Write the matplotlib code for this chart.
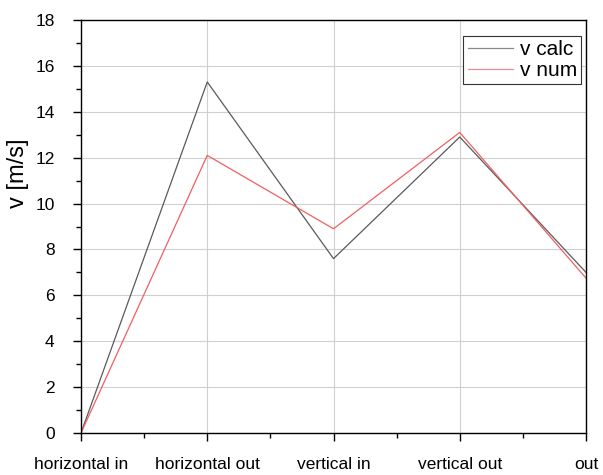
import matplotlib
matplotlib.use("Agg")
import matplotlib.pyplot as plt
from matplotlib.ticker import MultipleLocator

categories = ["horizontal in", "horizontal out", "vertical in", "vertical out", "out"]
v_calc = [0.0, 15.3, 7.6, 12.9, 7.0]
v_num = [0.0, 12.1, 8.9, 13.1, 6.75]

plt.rcParams['font.family'] = ['Liberation Sans', 'DejaVu Sans']

fig = plt.figure(figsize=(6.03, 4.75), dpi=100)
L, R, T, B = 81, 586, 20, 433
ax = fig.add_axes([L/603, 1-B/475, (R-L)/603, (B-T)/475])

x = list(range(len(categories)))
ax.plot(x, v_calc, color='#5a5a5a', lw=0.9, label='v calc')
ax.plot(x, v_num, color='#f06060', lw=0.9, label='v num')

ax.set_xlim(0, len(categories)-1)
ax.set_ylim(0, 18)
ax.set_xticks(x)
ax.set_xticklabels(categories)
ax.xaxis.set_minor_locator(MultipleLocator(0.5))
ax.yaxis.set_major_locator(MultipleLocator(2))
ax.yaxis.set_minor_locator(MultipleLocator(1))
ax.tick_params(axis='both', which='major', direction='out', length=6, width=1, labelsize=12.5)
ax.tick_params(axis='both', which='minor', direction='out', length=3.5, width=1)
ax.tick_params(axis='x', pad=11)
ax.tick_params(axis='y', pad=13)
ax.grid(True, which='major', color='#d0d0d0', lw=0.8)
ax.set_axisbelow(True)
for s in ax.spines.values():
    s.set_linewidth(1.0)
ax.set_ylabel('v [m/s]', fontsize=17)
ax.yaxis.set_label_coords((29-L)/(R-L), (B-173)/(B-T))

leg = ax.legend(loc='upper right', fontsize=15, frameon=True, fancybox=False,
                edgecolor='#333333', framealpha=1, handlelength=2.2,
                bbox_to_anchor=((581-L)/(R-L), (B-36)/(B-T)),
                borderaxespad=0, borderpad=0.2, labelspacing=0.1, handletextpad=0.3)
leg.get_frame().set_linewidth(0.8)
leg.get_lines()[0].set_color('#8a8a8a')
leg.get_lines()[1].set_color('#f08a9a')

fig.savefig("out.png", dpi=100)
